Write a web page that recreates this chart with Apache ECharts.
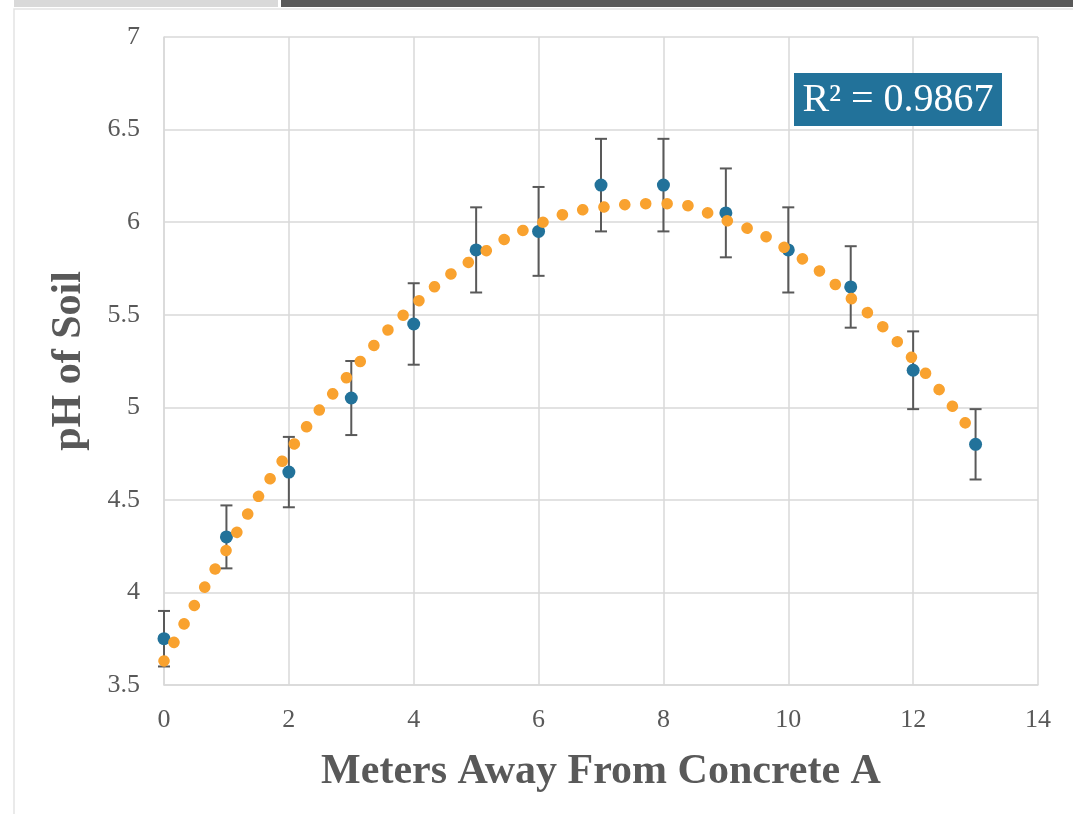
<!DOCTYPE html>
<html>
<head>
<meta charset="utf-8">
<script src="https://cdn.jsdelivr.net/npm/echarts@6/dist/echarts.min.js"></script>
<style>
  html, body { margin: 0; padding: 0; background: #fff; }
  #chart { width: 1073px; height: 814px; }
</style>
</head>
<body>
<div id="chart"></div>
<script>
// measured points (meters away from concrete A)
var meters = [0, 1, 2, 3, 4, 5, 6, 7, 8, 9, 10, 11, 12, 13];
var phValues = [3.75, 4.30, 4.65, 5.05, 5.45, 5.85, 5.95, 6.20, 6.20, 6.05, 5.85, 5.65, 5.20, 4.80];
var phError = [0.15, 0.17, 0.19, 0.20, 0.22, 0.23, 0.24, 0.25, 0.25, 0.24, 0.23, 0.22, 0.21, 0.19];
// trendline (polynomial fit, R² = 0.9867)
var trendValues = [3.63, 4.23, 4.76, 5.19, 5.55, 5.81, 5.99, 6.08, 6.10, 6.01, 5.85, 5.59, 5.26, 4.84];
var xTicks = [0, 2, 4, 6, 8, 10, 12, 14];
var yTicks = [3.5, 4, 4.5, 5, 5.5, 6, 6.5, 7];
var rSquaredText = 'R² = 0.9867';

var blue = '#22729a';
var orange = '#f9a22f';
var grey = '#595959';
var gridGrey = '#d9d9d9';
var serif = '"Liberation Serif", "DejaVu Serif", serif';

var pointData = [], errData = [], trendData = [];
for (var i = 0; i < meters.length; i++) {
    pointData.push([meters[i], phValues[i]]);
    errData.push([meters[i], phValues[i] - phError[i], phValues[i] + phError[i]]);
    trendData.push([meters[i], trendValues[i]]);
}

var myChart = echarts.init(document.getElementById('chart'));

var option = {
    backgroundColor: '#fff',
    animation: false,
    grid: { left: 164, right: 35, top: 37, bottom: 129 },
    xAxis: {
        type: 'value',
        min: xTicks[0],
        max: xTicks[xTicks.length - 1],
        interval: 2,
        name: 'Meters Away From Concrete A',
        nameLocation: 'middle',
        nameGap: 66,
        nameTextStyle: { fontFamily: serif, fontSize: 42, fontWeight: 'bold', color: grey },
        axisLine: { lineStyle: { color: gridGrey, width: 1.5 } },
        axisTick: { show: false },
        axisLabel: { fontFamily: serif, fontSize: 26, color: grey, margin: 22 },
        splitLine: { show: true, lineStyle: { color: gridGrey, width: 1.5 } }
    },
    yAxis: {
        type: 'value',
        min: yTicks[0],
        max: yTicks[yTicks.length - 1],
        interval: 0.5,
        name: 'pH of Soil',
        nameLocation: 'middle',
        nameGap: 74,
        nameRotate: 90,
        nameTextStyle: { fontFamily: serif, fontSize: 42, fontWeight: 'bold', color: grey },
        axisLine: { show: true, lineStyle: { color: gridGrey, width: 1.5 } },
        axisTick: { show: false },
        axisLabel: { fontFamily: serif, fontSize: 26, color: grey, margin: 24 },
        splitLine: { show: true, lineStyle: { color: gridGrey, width: 1.5 } }
    },
    graphic: [
        // header strips and panel border
        { type: 'rect', shape: { x: 14, y: 0, width: 264, height: 7 }, style: { fill: '#d9d9d9' }, silent: true },
        { type: 'rect', shape: { x: 281, y: 0, width: 792, height: 7 }, style: { fill: '#595959' }, silent: true },
        { type: 'polyline', shape: { points: [[14, 814], [14, 9], [1073, 9]] }, style: { stroke: '#e3e3e3', lineWidth: 1.5, fill: null }, silent: true },
        // R squared label
        { type: 'rect', shape: { x: 794, y: 73, width: 208, height: 53 }, style: { fill: blue }, z: 10 },
        {
            type: 'text', x: 898, y: 100, z: 11,
            style: { text: rSquaredText, fill: '#fff', font: '40px ' + serif, align: 'center', verticalAlign: 'middle' }
        }
    ],
    series: [
        {
            name: 'error',
            type: 'custom',
            z: 1,
            data: errData,
            renderItem: function (params, api) {
                var x = api.value(0);
                var low = api.coord([x, api.value(1)]);
                var high = api.coord([x, api.value(2)]);
                var cap = 6;
                var st = { stroke: grey, lineWidth: 2 };
                return {
                    type: 'group',
                    children: [
                        { type: 'line', shape: { x1: low[0], y1: low[1], x2: high[0], y2: high[1] }, style: st },
                        { type: 'line', shape: { x1: low[0] - cap, y1: low[1], x2: low[0] + cap, y2: low[1] }, style: st },
                        { type: 'line', shape: { x1: high[0] - cap, y1: high[1], x2: high[0] + cap, y2: high[1] }, style: st }
                    ]
                };
            }
        },
        {
            name: 'pH',
            type: 'scatter',
            z: 2,
            symbolSize: 13,
            itemStyle: { color: blue, opacity: 1 },
            data: pointData
        },
        {
            name: 'trend',
            type: 'line',
            z: 3,
            smooth: true,
            showSymbol: false,
            lineStyle: { color: orange, width: 11.5, type: [0.1, 21], cap: 'round', opacity: 1 },
            data: trendData
        }
    ]
};

myChart.setOption(option);
</script>
</body>
</html>
